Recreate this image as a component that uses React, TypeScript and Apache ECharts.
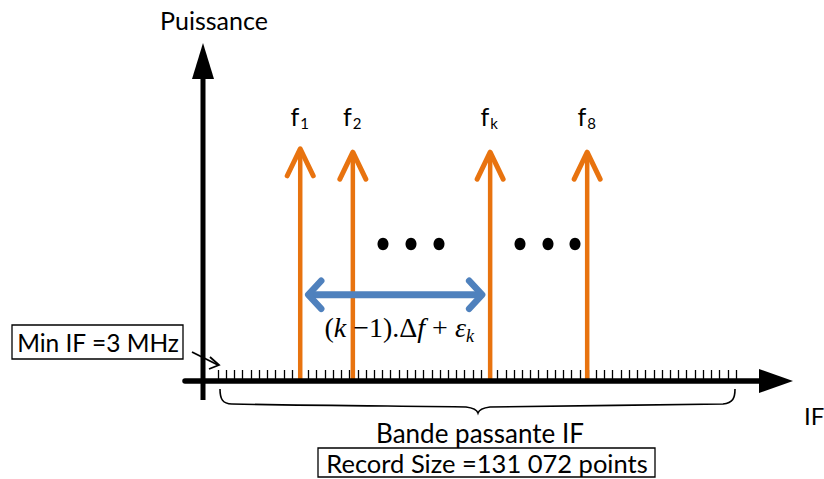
import React, { useEffect, useRef } from "react";
import * as echarts from "echarts";

// IF axis: bins (tick intervals) of the record
const binCount = 63;
// tones: position on the IF axis (in bins) and power (arbitrary units)
const toneBins = [10, 16.4, 33.1, 44.9];
const tonePower = [6.9, 6.8, 6.8, 6.8];
const toneSubscripts = ["1", "2", "k", "8"];
const toneLabelLevel = 7.85;
// spacing arrow between f1 and fk
const spacingTones = [0, 2];
const spacingLevel = 2.55;
const powerMax = 10;

const axisTitleY = "Puissance";
const axisTitleX = "IF";
const minIfText = "Min IF =3 MHz";
const bandText = "Bande passante IF";
const recordText = "Record Size =131 072 points";

const ORANGE = "#E8730F";
const BLUE = "#4F81BD";
const SANS = "Lato, 'Open Sans', sans-serif";
const SERIF = "'Liberation Serif', 'DejaVu Serif', serif";

const bracePath =
  "M220,389 C220,398 222,404 232,404 C330,406 420,406 466,407 C474,408 477,410 478,413 C479,410 482,408 490,407 C560,406 650,405 723,404 C733,403 735,398 735,389";

export default function App() {
  const ref = useRef<HTMLDivElement>(null);
  useEffect(() => {
    if (!ref.current) return;
    echarts.graphic.registerShape("brace", echarts.graphic.extendPath(bracePath, {}));
    const chart = echarts.init(ref.current, null, { renderer: "svg" });

    const toneData = toneBins.map((b, i) => [b, tonePower[i], i]);
    const spacingData = [[toneBins[spacingTones[0]], toneBins[spacingTones[1]], spacingLevel]];

    chart.setOption({
      animation: false,
      backgroundColor: "#fff",
      grid: { left: 218, right: 88, top: 43, bottom: 98 },
      xAxis: {
        type: "value",
        min: 0,
        max: binCount,
        interval: 1,
        axisLine: { show: false },
        axisTick: { show: true, inside: true, length: 11, lineStyle: { color: "#000", width: 1.3 } },
        axisLabel: { show: false },
        splitLine: { show: false },
      },
      yAxis: {
        type: "value",
        min: 0,
        max: powerMax,
        show: false,
        splitLine: { show: false },
      },
      series: [
        {
          type: "custom",
          z: 5,
          data: toneData,
          renderItem: (params: any, api: any) => {
            const x = api.value(0);
            const y = api.value(1);
            const idx = api.value(2);
            const base = api.coord([x, 0]);
            const top = api.coord([x, y]);
            const lab = api.coord([x, toneLabelLevel]);
            return {
              type: "group",
              children: [
                {
                  type: "line",
                  shape: { x1: base[0], y1: base[1], x2: top[0], y2: top[1] + 2 },
                  style: { stroke: ORANGE, lineWidth: 4.5 },
                },
                {
                  type: "polyline",
                  shape: {
                    points: [
                      [top[0] - 13, top[1] + 28],
                      [top[0], top[1] + 1],
                      [top[0] + 13, top[1] + 28],
                    ],
                  },
                  style: { stroke: ORANGE, lineWidth: 5, fill: "none", lineCap: "round", lineJoin: "round" },
                },
                {
                  type: "text",
                  x: lab[0] - 1,
                  y: lab[1],
                  style: {
                    text: "f",
                    fontFamily: SANS,
                    fontSize: 25,
                    fill: "#000",
                    align: "right",
                    verticalAlign: "middle",
                  },
                },
                {
                  type: "text",
                  x: lab[0],
                  y: lab[1] + 7,
                  style: {
                    text: toneSubscripts[idx],
                    fontFamily: SANS,
                    fontSize: 15,
                    fill: "#000",
                    align: "left",
                    verticalAlign: "middle",
                  },
                },
              ],
            };
          },
        },
        {
          type: "custom",
          z: 6,
          data: spacingData,
          renderItem: (params: any, api: any) => {
            const a = api.coord([api.value(0), api.value(2)]);
            const b = api.coord([api.value(1), api.value(2)]);
            const l = a[0] + 8;
            const r = b[0] - 8;
            const y = a[1];
            return {
              type: "group",
              children: [
                {
                  type: "line",
                  shape: { x1: l + 3, y1: y, x2: r - 3, y2: y },
                  style: { stroke: BLUE, lineWidth: 7 },
                },
                {
                  type: "polyline",
                  shape: { points: [[l + 13, y - 14], [l, y], [l + 13, y + 14]] },
                  style: { stroke: BLUE, lineWidth: 6.5, fill: "none", lineCap: "round", lineJoin: "round" },
                },
                {
                  type: "polyline",
                  shape: { points: [[r - 13, y - 14], [r, y], [r - 13, y + 14]] },
                  style: { stroke: BLUE, lineWidth: 6.5, fill: "none", lineCap: "round", lineJoin: "round" },
                },
                {
                  type: "text",
                  x: (l + r) / 2 + 4,
                  y: y + 33,
                  style: {
                    text: "{n|(}{i|k}{n| −1).Δ}{i|f}{n| + }{i|ε}{s|k}",
                    align: "center",
                    verticalAlign: "middle",
                    rich: {
                      n: { fontFamily: SERIF, fontSize: 28, fill: "#000", lineHeight: 34 },
                      i: { fontFamily: SERIF, fontSize: 28, fontStyle: "italic", fill: "#000", lineHeight: 34 },
                      s: {
                        fontFamily: SERIF,
                        fontSize: 18,
                        fontStyle: "italic",
                        fill: "#000",
                        lineHeight: 18,
                        verticalAlign: "bottom",
                      },
                    },
                  },
                },
              ],
            };
          },
        },
      ],
      graphic: [
        // Y axis
        { type: "line", z: 100, shape: { x1: 203, y1: 400, x2: 203, y2: 74 }, style: { stroke: "#000", lineWidth: 5 } },
        { type: "polygon", z: 100, shape: { points: [[203, 43], [192, 79], [214, 79]] }, style: { fill: "#000" } },
        // X axis
        { type: "line", z: 100, shape: { x1: 185, y1: 381, x2: 762, y2: 381 }, style: { stroke: "#000", lineWidth: 5.5, lineCap: "round" } },
        { type: "polygon", z: 100, shape: { points: [[793, 381], [759, 369], [759, 393]] }, style: { fill: "#000" } },
        // titles
        {
          type: "text", z: 100, x: 214, y: 20,
          style: { text: axisTitleY, fontFamily: SANS, fontSize: 25, fill: "#000", align: "center", verticalAlign: "middle" },
        },
        {
          type: "text", z: 100, x: 804, y: 415,
          style: { text: axisTitleX, fontFamily: SANS, fontSize: 24, fill: "#000", align: "left", verticalAlign: "middle" },
        },
        // ellipsis dots
        ...[383, 411, 439, 520, 548, 575].map((cx) => ({
          type: "ellipse", z: 100, shape: { cx, cy: 244, rx: 5.5, ry: 6.2 }, style: { fill: "#000" },
        })),
        // Min IF box
        { type: "rect", z: 100, shape: { x: 12, y: 325, width: 171, height: 34 }, style: { fill: "#fff", stroke: "#000", lineWidth: 1.3 } },
        {
          type: "text", z: 101, x: 98, y: 342,
          style: { text: minIfText, fontFamily: SANS, fontSize: 24.5, fill: "#000", align: "center", verticalAlign: "middle" },
        },
        // pointer from Min IF box to first bin
        { type: "line", z: 100, shape: { x1: 192, y1: 352, x2: 218, y2: 365 }, style: { stroke: "#000", lineWidth: 1.8 } },
        {
          type: "polyline", z: 100,
          shape: { points: [[210, 357], [219, 365], [209, 369]] },
          style: { stroke: "#000", lineWidth: 1.8, fill: "none" },
        },
        // brace
        { type: "brace", z: 100, x: 0, y: 0, style: { stroke: "#000", lineWidth: 1.6, fill: "none" } },
        {
          type: "text", z: 100, x: 480, y: 433,
          style: { text: bandText, fontFamily: SANS, fontSize: 26, fill: "#000", align: "center", verticalAlign: "middle" },
        },
        // Record size box
        { type: "rect", z: 100, shape: { x: 318, y: 448, width: 337, height: 29 }, style: { fill: "#fff", stroke: "#000", lineWidth: 1.3 } },
        {
          type: "text", z: 101, x: 487, y: 463,
          style: { text: recordText, fontFamily: SANS, fontSize: 25.5, fill: "#000", align: "center", verticalAlign: "middle" },
        },
      ],
    });
    return () => chart.dispose();
  }, []);
  return (
    <div
      ref={ref}
      style={{ position: "absolute", left: 0, top: 0, width: 824, height: 479, background: "#fff" }}
    />
  );
}
